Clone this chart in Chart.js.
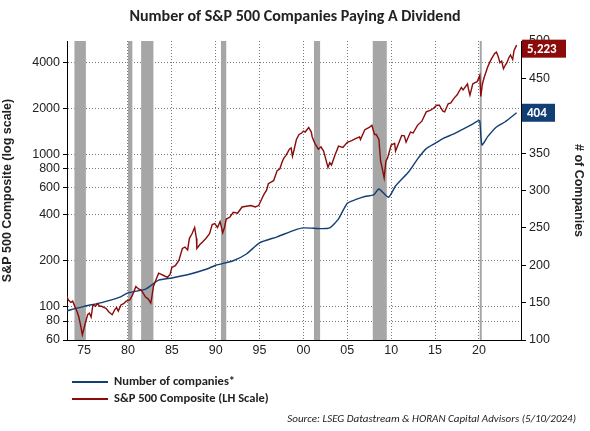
<!DOCTYPE html>
<html><head><meta charset="utf-8">
<script src="https://cdn.jsdelivr.net/npm/chart.js@4"></script>
<style>
body{margin:0;background:#fff;font-family:Calibri,"Liberation Sans",Arial,sans-serif}
#wrap{position:relative;width:590px;height:431px}
#title{position:absolute;top:6px;left:0;width:590px;text-align:center;font-weight:bold;font-size:16px;color:#222}
.leg{position:absolute;left:72px;font-size:12.5px;font-weight:bold;color:#222}
.leg span{display:inline-block;width:36px;height:2px;vertical-align:middle;margin-right:6px}
#src{position:absolute;right:14px;top:412px;font-style:italic;font-size:11px;color:#222}
</style></head><body>
<div id="wrap">
<canvas id="chart" width="590" height="431"></canvas>
<div id="title">Number of S&amp;P 500 Companies Paying A Dividend</div>
<div class="leg" style="top:373px"><span style="background:#123f73"></span>Number of companies*</div>
<div class="leg" style="top:390px"><span style="background:#8b0a0a"></span>S&amp;P 500 Composite (LH Scale)</div>
<div id="src">Source: LSEG Datastream &amp; HORAN Capital Advisors (5/10/2024)</div>
</div>
<script>
// ===== DATA =====
const spYears = [1973,1973.2,1973.5,1973.7,1974,1974.2,1974.4,1974.6,1974.8,1975,1975.2,1975.4,1975.6,1975.8,1976,1976.3,1976.5,1976.8,1977,1977.3,1977.5,1977.8,1978.2,1978.5,1978.7,1978.9,1979.2,1979.5,1979.8,1980.2,1980.5,1980.9,1981.2,1981.5,1981.8,1982,1982.3,1982.6,1982.75,1982.9,1983.2,1983.5,1983.8,1984,1984.5,1984.8,1985,1985.4,1985.8,1986.2,1986.5,1986.8,1987,1987.3,1987.6,1987.8,1987.85,1988.2,1988.5,1988.9,1989.3,1989.6,1989.9,1990.2,1990.5,1990.8,1991,1991.2,1991.6,1992,1992.5,1993,1993.5,1994,1994.5,1994.9,1995.3,1995.5,1995.8,1996,1996.4,1996.6,1997,1997.3,1997.6,1997.8,1998,1998.4,1998.6,1998.75,1998.9,1999.2,1999.5,1999.8,2000,2000.2,2000.6,2000.9,2001,2001.3,2001.7,2002,2002.3,2002.5,2002.8,2003,2003.2,2003.6,2004,2004.5,2005,2005.5,2006,2006.4,2006.5,2007,2007.5,2007.8,2008.1,2008.3,2008.6,2008.8,2009,2009.2,2009.4,2009.6,2010,2010.4,2010.5,2010.9,2011.2,2011.5,2011.7,2012.2,2012.5,2013,2013.5,2014,2014.5,2014.8,2015.2,2015.5,2015.7,2015.9,2016.1,2016.5,2016.8,2017.2,2017.5,2018,2018.2,2018.7,2018.8,2018.98,2019.3,2019.5,2019.8,2020.1,2020.22,2020.4,2020.6,2021,2021.3,2021.5,2021.8,2022,2022.2,2022.4,2022.6,2022.8,2023,2023.2,2023.4,2023.6,2023.85,2024,2024.3];
const spValues = [118,110,106,108,98,92,85,75,65,72,80,88,90,85,102,100,104,100,100,98,97,92,88,95,98,93,102,104,108,110,118,135,130,128,120,115,112,105,118,135,150,165,162,160,155,162,180,185,200,240,245,235,280,300,330,280,240,255,265,280,300,345,350,330,360,305,330,375,385,415,410,450,455,460,450,460,515,545,580,640,660,670,780,800,900,950,980,1080,1100,970,1050,1250,1350,1380,1420,1400,1500,1400,1300,1180,1080,1120,1050,950,820,880,850,990,1130,1110,1200,1230,1270,1300,1250,1450,1500,1550,1350,1350,1250,900,800,700,900,950,1150,1180,1050,1200,1330,1320,1200,1400,1380,1550,1650,1900,1950,2000,2100,2100,2000,1920,1900,2150,2180,2350,2450,2750,2650,2900,2700,2450,2900,2950,3000,3300,2400,2900,3200,3750,4100,4300,4600,4700,4400,4000,4100,3650,3850,4000,4300,4500,4200,4800,5223];
const coYears = [1973,1975,1977,1979,1980,1982,1983.5,1985,1987,1989,1990,1992,1993.5,1995,1997,1999,2000,2002,2003,2004,2005,2006,2007,2008,2008.6,2009.7,2010.5,2012,2013,2014,2015,2016,2017,2018,2019,2019.9,2020.1,2020.35,2021,2022,2023,2024.3];
const coValues = [139,145,150,157,163,168,180,183,188,195,200,206,215,230,238,247,250,249,250,262,283,288,292,294,302,291,306,325,342,356,363,370,375,381,387,393,393,361,372,385,392,404];
const recessions = [[1973.9,1975.2],[1980.0,1980.5],[1981.5,1982.9],[1990.6,1991.2],[2001.2,2001.9],[2007.9,2009.5],[2020.1,2020.3]];
const xTicks = [1975,1980,1985,1990,1995,2000,2005,2010,2015,2020];
const leftTicks = [60,80,100,200,400,600,800,1000,2000,4000];

const RED = '#8b0a0a', BLUE = '#123f73';
const pts = (xs, ys) => xs.map((x, i) => ({x, y: ys[i]}));

// recession bars + end labels
const extras = {
  id: 'extras',
  beforeDatasetsDraw(chart) {
    const {ctx, chartArea: a, scales: {x}} = chart;
    ctx.save();
    ctx.fillStyle = '#a6a6a6';
    recessions.forEach(([s, e]) => {
      const x0 = x.getPixelForValue(s), x1 = x.getPixelForValue(e);
      ctx.fillRect(x0, a.top, Math.max(x1 - x0, 2), a.bottom - a.top);
    });
    ctx.restore();
  },
  afterDraw(chart) {
    const {ctx, chartArea: a, scales: {yL, yR}} = chart;
    ctx.save();
    ctx.font = 'bold 13px Calibri, "Liberation Sans", Arial';
    ctx.textBaseline = 'middle';
    const box = (txt, y, col, w) => {
      ctx.fillStyle = col;
      ctx.fillRect(a.right + 1, y - 9, w, 18);
      ctx.fillStyle = '#fff';
      ctx.fillText(txt, a.right + 6, y + 1);
    };
    box(spValues[spValues.length - 1].toLocaleString('en-US'), yL.getPixelForValue(4950), RED, 44);
    box(String(coValues[coValues.length - 1]), yR.getPixelForValue(404), BLUE, 33);
    ctx.restore();
  }
};

new Chart(document.getElementById('chart'), {
  type: 'line',
  data: {
    datasets: [
      {data: pts(spYears, spValues), yAxisID: 'yL', borderColor: RED, borderWidth: 1.4, pointRadius: 0, tension: 0},
      {data: pts(coYears, coValues), yAxisID: 'yR', borderColor: BLUE, borderWidth: 1.4, pointRadius: 0, tension: 0.2}
    ]
  },
  plugins: [extras],
  options: {
    responsive: false,
    animation: false,
    layout: {padding: {top: 41, bottom: 71}},
    plugins: {legend: {display: false}, tooltip: {enabled: false}},
    scales: {
      x: {
        type: 'linear', min: 1973.05, max: 2024.8,
        afterBuildTicks: s => { s.ticks = xTicks.map(v => ({value: v})); },
        afterFit: s => { s.height = 20; },
        ticks: {color: '#222', font: {size: 12.5}, callback: v => String(v % 100).padStart(2, '0')},
        grid: {color: '#777', lineWidth: 1, drawTicks: false},
        border: {color: '#000', dash: [1, 2]}
      },
      yL: {
        type: 'logarithmic', position: 'left', min: 60, max: 5560,
        afterBuildTicks: s => { s.ticks = leftTicks.map(v => ({value: v})); },
        afterFit: s => { s.width = 67; },
        ticks: {color: '#222', font: {size: 12.5}, callback: v => String(v)},
        title: {display: true, text: 'S&P 500 Composite (log scale)', color: '#222', font: {size: 12.5, weight: 'bold'}, padding: 0},
        grid: {color: '#777', drawTicks: true, tickLength: 4, tickColor: '#000'},
        border: {color: '#000', dash: [1, 2]}
      },
      yR: {
        type: 'linear', position: 'right', min: 100, max: 500,
        afterFit: s => { s.width = 69; },
        ticks: {stepSize: 50, color: '#222', font: {size: 12.5}},
        title: {display: true, text: '# of Companies', color: '#222', font: {size: 12.5, weight: 'bold'}},
        grid: {drawOnChartArea: false, tickLength: 5, tickColor: '#000'},
        border: {color: '#000'}
      }
    }
  }
});
</script>
</body></html>
